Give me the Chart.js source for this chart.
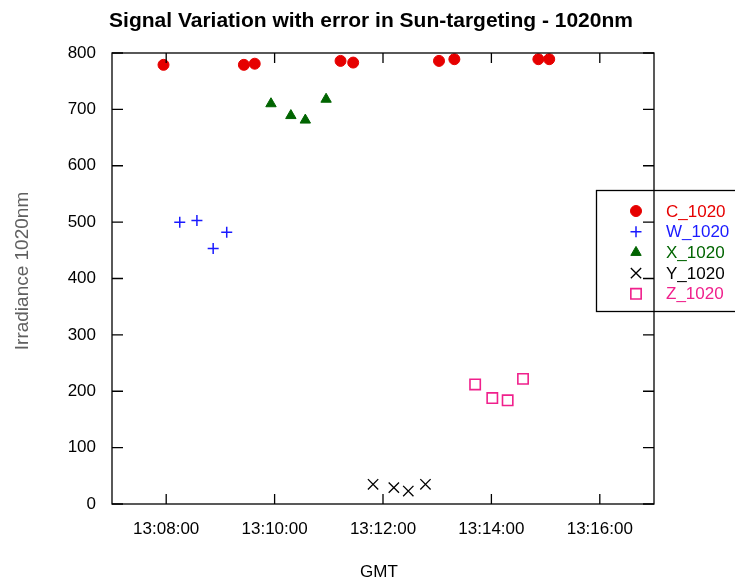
<!DOCTYPE html>
<html>
<head>
<meta charset="utf-8">
<script src="https://cdn.jsdelivr.net/npm/chart.js@4.4.1/dist/chart.umd.min.js"></script>
<style>
  body { margin: 0; background: #fff; }
  #wrap { width: 735px; height: 583px; }
</style>
</head>
<body>
<div id="wrap"><canvas id="sunChart" width="735" height="583"></canvas></div>
<script>
// series (GMT time, irradiance)
const seriesNames = ['C_1020', 'W_1020', 'X_1020', 'Y_1020', 'Z_1020'];
const seriesColors = ['#e60000', '#1a1aff', '#006400', '#000000', '#f0208c'];

const cTimes = ['13:07:57', '13:09:26', '13:09:38', '13:11:13', '13:11:27', '13:13:02', '13:13:19', '13:14:52', '13:15:04'];
const cValues = [779, 779, 781, 786, 783, 786, 789, 789, 789];

const wTimes = ['13:08:15', '13:08:34', '13:08:52', '13:09:07'];
const wValues = [500, 503, 453, 482];

const xTimes = ['13:09:56', '13:10:18', '13:10:34', '13:10:57'];
const xValues = [710, 689, 681, 718];

const yTimes = ['13:11:49', '13:12:12', '13:12:28', '13:12:47'];
const yValues = [35, 29, 23, 35];

const zTimes = ['13:13:42', '13:14:01', '13:14:18', '13:14:35'];
const zValues = [212, 188, 184, 222];

const xTickLabels = ['13:08:00', '13:10:00', '13:12:00', '13:14:00', '13:16:00'];
const xRange = ['13:07:00', '13:17:00'];
const yTickValues = [0, 100, 200, 300, 400, 500, 600, 700, 800];

const FONT = '"Liberation Sans", Arial, sans-serif';

function toSec(t) {
  const p = t.split(':').map(Number);
  return p[0] * 3600 + p[1] * 60 + p[2];
}
function toLabel(s) {
  const h = Math.floor(s / 3600), m = Math.floor((s % 3600) / 60), sec = s % 60;
  const pad = n => String(n).padStart(2, '0');
  return h + ':' + pad(m) + ':' + pad(sec);
}
function pts(times, values) {
  return times.map((t, i) => ({ x: toSec(t), y: values[i] }));
}

const pointStyles = [
  { pointStyle: 'circle', radius: 5.5, fill: true, bw: 1 },
  { pointStyle: 'cross', radius: 5.5, fill: false, bw: 1.5 },
  { pointStyle: 'triangle', radius: 6, fill: true, bw: 1 },
  { pointStyle: 'crossRot', radius: 7.3, fill: false, bw: 1.3 },
  { pointStyle: 'rect', radius: 7.3, fill: false, bw: 1.6 }
];

const allData = [pts(cTimes, cValues), pts(wTimes, wValues), pts(xTimes, xValues), pts(yTimes, yValues), pts(zTimes, zValues)];

const datasets = allData.map((d, i) => ({
  label: seriesNames[i],
  data: d,
  showLine: false,
  pointStyle: pointStyles[i].pointStyle,
  pointRadius: pointStyles[i].radius,
  pointHoverRadius: pointStyles[i].radius,
  pointBorderWidth: pointStyles[i].bw,
  borderColor: seriesColors[i],
  backgroundColor: pointStyles[i].fill ? seriesColors[i] : 'rgba(0,0,0,0)'
}));

// frame, inward ticks, titles and legend
const decorations = {
  id: 'decorations',
  afterDatasetsDraw(chart) {
    const ctx = chart.ctx;
    const a = chart.chartArea;
    const xs = chart.scales.x, ys = chart.scales.y;
    ctx.save();
    ctx.strokeStyle = '#000';
    ctx.lineWidth = 1.3;
    ctx.strokeRect(a.left, a.top, a.right - a.left, a.bottom - a.top);
    ctx.beginPath();
    xTickLabels.forEach(t => {
      const px = xs.getPixelForValue(toSec(t));
      ctx.moveTo(px, a.bottom); ctx.lineTo(px, a.bottom - 10);
      ctx.moveTo(px, a.top); ctx.lineTo(px, a.top + 10);
    });
    yTickValues.forEach(v => {
      const py = ys.getPixelForValue(v);
      ctx.moveTo(a.left, py); ctx.lineTo(a.left + 11, py);
      ctx.moveTo(a.right, py); ctx.lineTo(a.right - 11, py);
    });
    ctx.stroke();

    // title
    ctx.fillStyle = '#000';
    ctx.textAlign = 'center';
    ctx.textBaseline = 'middle';
    ctx.font = 'bold 21px ' + FONT;
    ctx.fillText('Signal Variation with error in Sun-targeting - 1020nm', 371, 21);
    // x title
    ctx.font = '17px ' + FONT;
    ctx.fillText('GMT', 379, 572);
    // y title
    ctx.save();
    ctx.translate(23, 271);
    ctx.rotate(-Math.PI / 2);
    ctx.fillStyle = '#606060';
    ctx.font = '19px ' + FONT;
    ctx.fillText('Irradiance 1020nm', 0, 0);
    ctx.restore();

    // legend
    ctx.font = '17px ' + FONT;
    ctx.lineWidth = 1.3;
    ctx.strokeStyle = '#000';
    ctx.strokeRect(596.5, 190.5, 200, 121);
    ctx.textAlign = 'left';
    seriesNames.forEach((name, i) => {
      const y = 211 + i * 20.7;
      const ps = pointStyles[i];
      ctx.strokeStyle = seriesColors[i];
      ctx.fillStyle = ps.fill ? seriesColors[i] : 'rgba(0,0,0,0)';
      ctx.lineWidth = ps.bw;
      Chart.helpers.drawPoint(ctx, { pointStyle: ps.pointStyle, radius: ps.radius, rotation: 0, borderWidth: ps.bw }, 636, y);
      ctx.fillStyle = seriesColors[i];
      ctx.fillText(name, 666, y + 1);
    });
    ctx.restore();
  }
};

new Chart(document.getElementById('sunChart'), {
  type: 'scatter',
  data: { datasets: datasets },
  options: {
    responsive: false,
    animation: false,
    layout: { padding: { top: 53, right: 81, left: 0, bottom: 0 } },
    plugins: { legend: { display: false }, tooltip: { enabled: false }, title: { display: false } },
    scales: {
      x: {
        type: 'linear',
        min: toSec(xRange[0]),
        max: toSec(xRange[1]),
        grid: { display: false, drawTicks: false },
        border: { display: false },
        afterFit(scale) { scale.height = 79; },
        afterBuildTicks(scale) { scale.ticks = xTickLabels.map(t => ({ value: toSec(t) })); },
        ticks: {
          padding: 15,
          maxRotation: 0,
          color: '#000',
          font: { family: FONT, size: 17 },
          callback: v => toLabel(v)
        }
      },
      y: {
        min: 0,
        max: 800,
        grid: { display: false, drawTicks: false },
        border: { display: false },
        afterFit(scale) { scale.width = 112; },
        afterBuildTicks(scale) { scale.ticks = yTickValues.map(v => ({ value: v })); },
        ticks: {
          padding: 16,
          color: '#000',
          font: { family: FONT, size: 17 }
        }
      }
    }
  },
  plugins: [decorations]
});
</script>
</body>
</html>
